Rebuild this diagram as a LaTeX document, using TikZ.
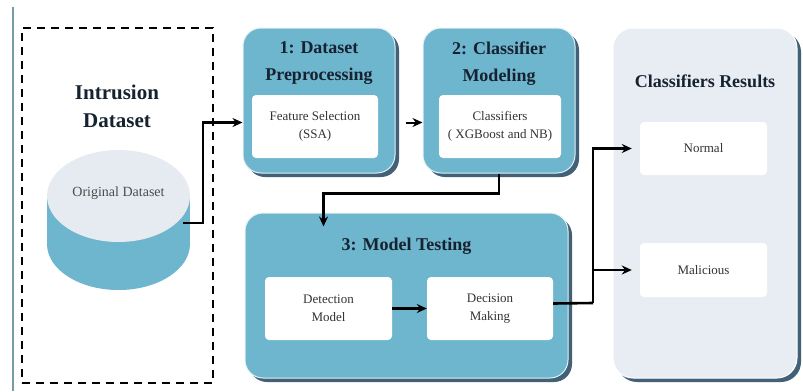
\documentclass[tikz,border=0pt]{standalone}
\usepackage{fontspec}
\setmainfont{Liberation Serif}
\usetikzlibrary{positioning,arrows.meta,shadows}

\definecolor{boxblue}{RGB}{110,181,206}
\definecolor{boxshadow}{RGB}{66,96,118}
\definecolor{resultgray}{RGB}{232,237,243}
\definecolor{dbtop}{RGB}{230,234,241}
\definecolor{titlenavy}{RGB}{22,34,48}
\definecolor{sidebar}{RGB}{120,155,170}

\begin{document}
\begin{tikzpicture}[
    x=1pt,y=-1pt,
    stage/.style={rectangle,rounded corners=18pt,fill=boxblue,draw=white!80!boxblue,line width=1pt,
      general shadow={shadow xshift=4pt,shadow yshift=-4pt,fill=boxshadow}},
    resultbox/.style={rectangle,rounded corners=20pt,fill=resultgray,draw=white,line width=1pt,
      general shadow={shadow xshift=4pt,shadow yshift=-4pt,fill=boxshadow}},
    inner/.style={rectangle,rounded corners=4pt,fill=white,minimum height=63pt,align=center,
      font=\fontsize{13}{18}\selectfont,text=black!80},
    title/.style={align=center,font=\bfseries\fontsize{18}{27}\selectfont,text=titlenavy},
    dashbox/.style={rectangle,draw,line width=2.2pt,dash pattern=on 8pt off 6pt,
      minimum width=191pt,minimum height=355pt},
    arrow/.style={-{Stealth[length=10pt,width=9pt]},line width=2.6pt}
]
\useasboundingbox (0,0) rectangle (803,391);

% side bar
\draw[sidebar,line width=2.5pt] (13,7) -- (13,391);

% Intrusion Dataset
\node[dashbox] (intrusion) at (117.5,205.5) {};
\node[title,font=\bfseries\fontsize{21}{28}\selectfont] (intrusiontitle) at (117,106) {Intrusion\\Dataset};

% Database cylinder
\fill[boxblue] (118.5,244) ellipse[x radius=71.5,y radius=46];
\fill[boxblue] (47,196) rectangle (190,244);
\fill[dbtop] (118.5,196) ellipse[x radius=71.5,y radius=46];
\node[font=\fontsize{14}{16}\selectfont,text=black!70] (db) at (118.5,193) {Original Dataset};
\coordinate (dbout) at (183,223);

% Stage 1 and 2
\node[stage,minimum width=152pt,minimum height=145pt] (prep) at (319,100.5) {};
\node[title] (preptitle) at ([yshift=-36pt]prep.north) {1: Dataset\\Preprocessing};
\node[inner,minimum width=126pt] (featsel) at (315,126.5) {Feature Selection\\(SSA)};

\node[stage,minimum width=152pt,minimum height=145pt] (model) at (499,100.5) {};
\node[title] (modeltitle) at ([yshift=-36pt]model.north) {2: Classifier\\Modeling};
\node[inner,minimum width=122pt] (clf) at (500,126.5) {Classifiers\\( XGBoost and NB)};

% Stage 3
\node[stage,minimum width=323pt,minimum height=165pt] (test) at (406.5,295.5) {};
\node[title] (testtitle) at ([yshift=-34pt]test.north) {3: Model Testing};
\node[inner,minimum width=127pt] (detect) at (328.5,308.5) {Detection\\Model};
\node[inner,minimum width=126pt] (decide) at (490,308.5) {Decision\\Making};

% Results
\node[resultbox,minimum width=184pt,minimum height=350pt] (results) at (705,203) {};
\node[title] (resultstitle) at ([yshift=-54pt]results.north) {Classifiers Results};
\node[inner,minimum width=127pt,minimum height=53pt] (normal) at (703.5,148.5) {Normal};
\node[inner,minimum width=127pt,minimum height=54pt] (malicious) at (703.5,270) {Malicious};
\coordinate (split) at (593,303);

% Arrows
\draw[arrow] (dbout) -- ++(20,0) |- ([yshift=-22pt]prep.west);
\draw[arrow,line width=2pt] ([xshift=10pt,yshift=-22pt]prep.east) -- ([yshift=-22pt]model.west);
\draw[arrow] (model.south) -- ++(0,20) -| ([xshift=79pt,yshift=-14pt]test.north west);
\draw[arrow] (detect.east) -- (decide.west);
\draw[line width=2.6pt] ([yshift=5pt]decide.east) -- (split);
\draw[arrow] (split) |- ([xshift=-8pt]normal.west);
\draw[arrow] (split) |- ([xshift=-8pt]malicious.west);

\end{tikzpicture}
\end{document}
